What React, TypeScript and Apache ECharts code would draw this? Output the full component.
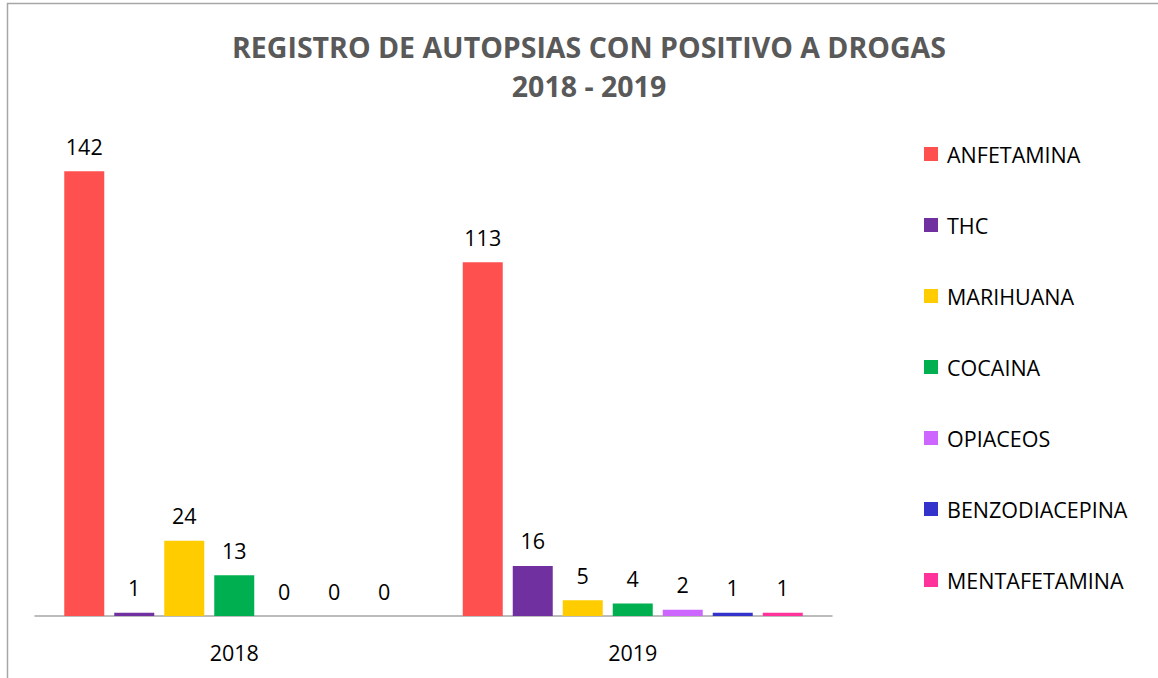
import React, { useEffect, useRef } from "react";
import * as echarts from "echarts";

const years = ["2018", "2019"];
const drugs = ["ANFETAMINA", "THC", "MARIHUANA", "COCAINA", "OPIACEOS", "BENZODIACEPINA", "MENTAFETAMINA"];
const anfetamina = [142, 113];
const thc = [1, 16];
const marihuana = [24, 5];
const cocaina = [13, 4];
const opiaceos = [0, 2];
const benzodiacepina = [0, 1];
const mentafetamina = [0, 1];
const seriesValues = [anfetamina, thc, marihuana, cocaina, opiaceos, benzodiacepina, mentafetamina];
const colors = ["#FF5050", "#7030A0", "#FFCC00", "#00B050", "#CC66FF", "#3333CC", "#FF3399"];

const FONT = "'Open Sans', 'Noto Sans', sans-serif";

export default function App() {
  const ref = useRef<HTMLDivElement>(null);
  useEffect(() => {
    document.body.style.margin = "0";
    const chart = echarts.init(ref.current!, null, { renderer: "svg" });
    chart.setOption({
      animation: false,
      backgroundColor: "#ffffff",
      title: {
        text: "REGISTRO DE AUTOPSIAS CON POSITIVO A DROGAS\n2018 - 2019",
        left: 584,
        textAlign: "center",
        top: 22,
        textStyle: {
          fontFamily: FONT,
          fontWeight: "bold",
          fontSize: 28.5,
          color: "#595959",
          lineHeight: 39,
        },
      },
      graphic: [
        {
          type: "rect",
          shape: { x: 7.5, y: 3.5, width: 1200, height: 720 },
          style: { fill: "none", stroke: "#a6a6a6", lineWidth: 1.5 },
          silent: true,
        },
      ],
      legend: {
        orient: "vertical",
        left: 919,
        top: 138,
        itemWidth: 14,
        itemHeight: 14,
        itemGap: 49,
        icon: "rect",
        data: drugs,
        textStyle: {
          fontFamily: FONT,
          fontSize: 21.5,
          color: "#000000",
          padding: [0, 0, 0, 4],
        },
      },
      grid: { left: 35, top: 115, width: 797, height: 501, containLabel: false },
      xAxis: {
        type: "category",
        data: years,
        axisLine: { lineStyle: { color: "#a6a6a6", width: 1.5 } },
        axisTick: { show: false },
        axisLabel: { fontFamily: FONT, fontSize: 21.5, color: "#000000", margin: 25 },
      },
      yAxis: {
        type: "value",
        min: 0,
        max: 160,
        show: false,
        splitLine: { show: false },
      },
      series: drugs.map((name, i) => ({
        name,
        type: "bar",
        data: seriesValues[i],
        barWidth: 40,
        barGap: "25%",
        itemStyle: { color: colors[i] },
        label: {
          show: true,
          position: "top",
          distance: 14,
          fontFamily: FONT,
          fontSize: 21.5,
          color: "#000000",
        },
      })),
    });
    return () => chart.dispose();
  }, []);
  return <div ref={ref} style={{ width: 1158, height: 678 }} />;
}
